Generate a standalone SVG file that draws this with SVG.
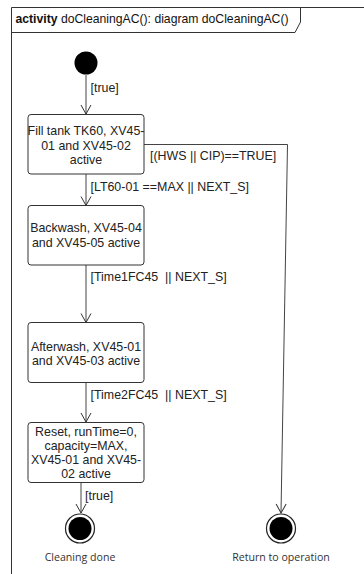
<svg xmlns="http://www.w3.org/2000/svg" width="364" height="574" viewBox="0 0 364 574">
<defs>
<marker id="open" markerWidth="12" markerHeight="12" refX="10" refY="6" orient="auto" markerUnits="userSpaceOnUse">
<path d="M1,1 L10,6 L1,11" fill="none" stroke="#333" stroke-width="1"/>
</marker>
<style>
.frame{fill:none;stroke:#333;stroke-width:1}
.box{fill:#fff;stroke:#333;stroke-width:1}
.t{font-family:"Liberation Sans",Arial,sans-serif;font-size:12.4px;fill:#222;text-anchor:middle}
.g{font-family:"Liberation Sans",Arial,sans-serif;font-size:12.4px;fill:#222;white-space:pre}
.n{font-family:"Open Sans","Liberation Sans",sans-serif;font-size:10.6px;fill:#333;text-anchor:middle}
.e{fill:none;stroke:#444;stroke-width:1;marker-end:url(#open)}
</style>
</defs>
<rect width="364" height="574" fill="#fff"/>
<g id="frame">
<path class="frame" d="M11.5,574 L11.5,7.5 L364,7.5"/>
<path class="frame" d="M11.5,32.5 L295,32.5 L300.5,22 L300.5,7.5"/>
<text x="15.5" y="23" style="font-family:'Liberation Sans',Arial,sans-serif;font-size:12.2px;fill:#111"><tspan font-weight="bold">activity</tspan> doCleaningAC(): diagram doCleaningAC()</text>
</g>
<g id="connectors">
<line class="e" x1="86" y1="75" x2="86" y2="114"/>
<text class="g" x="90.5" y="91.5">[true]</text>
<polyline class="e" points="144,144.5 287.5,144.5 281,513"/>
<text class="g" x="150" y="159.5">[(HWS || CIP)==TRUE]</text>
<line class="e" x1="86" y1="174" x2="86" y2="205.5"/>
<text class="g" x="90.5" y="191">[LT60-01 ==MAX || NEXT_S]</text>
<line class="e" x1="86" y1="265" x2="86" y2="322.5"/>
<text class="g" x="90.5" y="281" xml:space="preserve">[Time1FC45  || NEXT_S]</text>
<line class="e" x1="86" y1="383" x2="86" y2="422"/>
<text class="g" x="90.5" y="398.5" xml:space="preserve">[Time2FC45  || NEXT_S]</text>
<line class="e" x1="81" y1="482.5" x2="81" y2="513"/>
<text class="g" x="85" y="499.5">[true]</text>
</g>
<g id="start">
<circle cx="86" cy="63" r="11.5" fill="#000"/>
</g>
<g id="fill">
<rect class="box" x="28" y="114.5" width="116" height="59.5" rx="3"/>
<text class="t" x="86" y="135">Fill tank TK60, XV45-</text>
<text class="t" x="86" y="149.5">01 and XV45-02</text>
<text class="t" x="86" y="163.5">active</text>
</g>
<g id="backwash">
<rect class="box" x="28" y="205.5" width="116" height="59.5" rx="3"/>
<text class="t" x="86" y="231.5">Backwash, XV45-04</text>
<text class="t" x="86" y="246.5">and XV45-05 active</text>
</g>
<g id="afterwash">
<rect class="box" x="28" y="322.5" width="116" height="60" rx="3"/>
<text class="t" x="86" y="350.5">Afterwash, XV45-01</text>
<text class="t" x="86" y="364.5">and XV45-03 active</text>
</g>
<g id="reset">
<rect class="box" x="28" y="422.5" width="116" height="60" rx="3"/>
<text class="t" x="86" y="436">Reset, runTime=0,</text>
<text class="t" x="86" y="450">capacity=MAX,</text>
<text class="t" x="86" y="464">XV45-01 and XV45-</text>
<text class="t" x="86" y="478">02 active</text>
</g>
<g id="done">
<circle cx="80" cy="528.5" r="14.5" fill="#fff" stroke="#222" stroke-width="1.2"/>
<circle cx="80" cy="528.5" r="11.5" fill="#000"/>
<text class="n" x="80" y="560.5">Cleaning done</text>
</g>
<g id="return">
<circle cx="281" cy="528.5" r="14.5" fill="#fff" stroke="#222" stroke-width="1.2"/>
<circle cx="281" cy="528.5" r="11.5" fill="#000"/>
<text class="n" x="281" y="560.5">Return to operation</text>
</g>
</svg>
